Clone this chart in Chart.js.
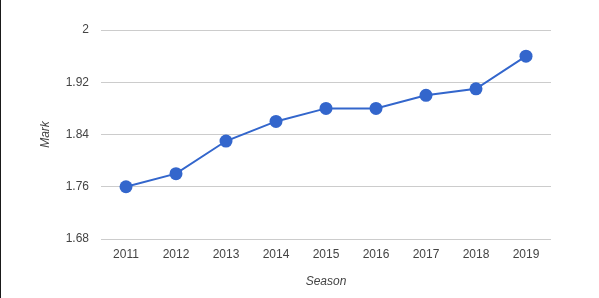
<!DOCTYPE html>
<html>
<head>
<meta charset="utf-8">
<script src="https://cdn.jsdelivr.net/npm/chart.js@4/dist/chart.umd.min.js"></script>
<style>
  html, body { margin: 0; padding: 0; background: #fff; }
  body { width: 599px; height: 298px; overflow: hidden; position: relative; }
  #edge { position: absolute; left: 0; top: 0; width: 1px; height: 298px; background: #1a1a1a; }
  #wrap { position: absolute; left: 0; top: 0; width: 599px; height: 298px; }
</style>
</head>
<body>
<div id="edge"></div>
<div id="wrap"><canvas id="markChart" width="599" height="298"></canvas></div>
<script>
// Sezone i ocene
const seasons = ['2011', '2012', '2013', '2014', '2015', '2016', '2017', '2018', '2019'];
const marks = [1.76, 1.78, 1.83, 1.86, 1.88, 1.88, 1.90, 1.91, 1.96];
const yTicks = [1.68, 1.76, 1.84, 1.92, 2];

const textColor = '#444';
const lineColor = '#3366cc';

const ctx = document.getElementById('markChart').getContext('2d');
new Chart(ctx, {
    type: 'line',
    data: {
        labels: seasons,
        datasets: [{
            label: 'Mark',
            data: marks,
            borderColor: lineColor,
            backgroundColor: lineColor,
            borderWidth: 2,
            pointRadius: 6.5,
            pointHoverRadius: 6.5,
            pointBorderWidth: 0,
            tension: 0
        }]
    },
    options: {
        responsive: false,
        animation: false,
        layout: { padding: { top: 30, right: 48, left: 0, bottom: 0 } },
        plugins: {
            legend: { display: false },
            tooltip: { enabled: false }
        },
        scales: {
            x: {
                offset: true,
                grid: { display: false, drawTicks: false },
                border: { display: false },
                ticks: {
                    color: textColor,
                    font: { family: 'Arial, "Liberation Sans"', size: 12 },
                    padding: 8,
                    maxRotation: 0
                },
                title: {
                    display: true,
                    text: 'Season',
                    color: textColor,
                    font: { family: 'Arial, "Liberation Sans"', size: 12, style: 'italic' },
                    padding: { top: 0, bottom: 9 }
                },
                afterFit: function(scale) { scale.height = 59; }
            },
            y: {
                min: 1.68,
                max: 2,
                grid: { color: '#cccccc', drawTicks: false, lineWidth: 1 },
                border: { display: false },
                afterBuildTicks: function(scale) {
                    scale.ticks = yTicks.map(v => ({ value: v }));
                },
                ticks: {
                    color: textColor,
                    font: { family: 'Arial, "Liberation Sans"', size: 12 },
                    padding: 12,
                    callback: function(value) {
                        return Number(value.toFixed(2)).toString();
                    }
                },
                title: {
                    display: true,
                    text: 'Mark',
                    color: textColor,
                    font: { family: 'Arial, "Liberation Sans"', size: 12, style: 'italic' },
                    padding: { top: 38, bottom: 0 }
                },
                afterFit: function(scale) { scale.width = 101; }
            }
        }
    }
});
</script>
</body>
</html>
